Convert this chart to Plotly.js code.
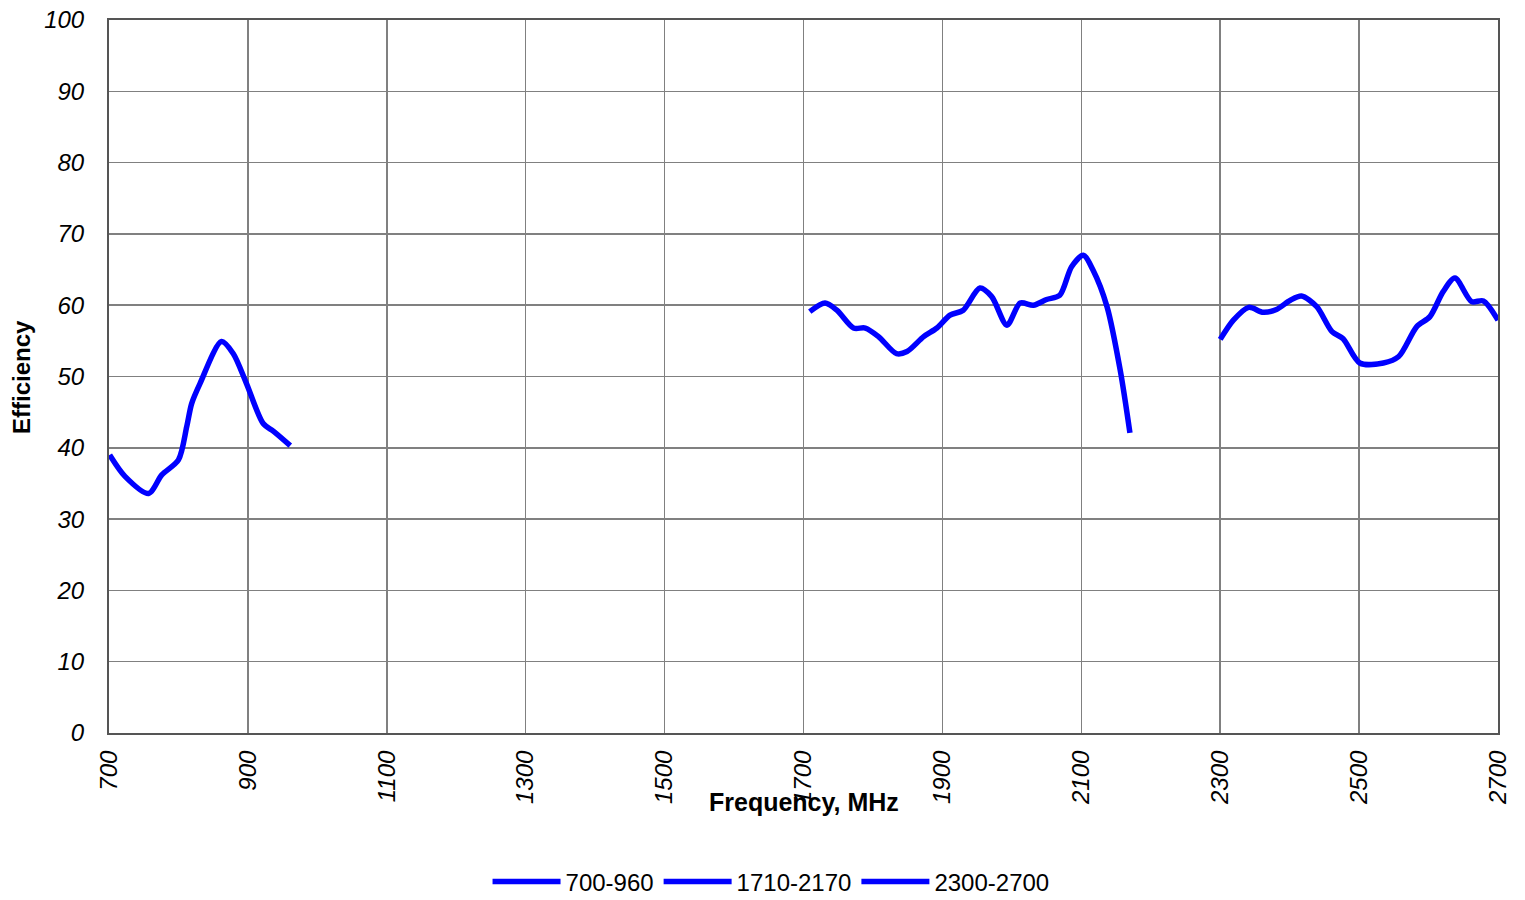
<!DOCTYPE html>
<html>
<head>
<meta charset="utf-8">
<script src="https://cdn.plot.ly/plotly-3.0.1.min.js"></script>
<style>html,body{margin:0;padding:0;background:#fff;}#chart{width:1525px;height:900px;}</style>
</head>
<body>
<div id="chart"></div>
<script>
// Series 700-960
const f1 = [701, 723, 757, 776, 800, 812, 819, 831, 862, 879, 898, 922, 937, 961];
const e1 = [39.0, 36.0, 33.6, 36.2, 38.3, 43.0, 46.2, 49.0, 54.9, 53.2, 49.0, 43.4, 42.3, 40.3];
// Series 1710-2170
const f2 = [1709, 1731, 1748, 1772, 1789, 1808, 1834, 1849, 1873, 1892, 1911, 1930, 1954, 1971, 1993, 2012, 2031, 2050, 2069, 2086, 2103, 2117, 2137, 2156, 2170];
const e2 = [59.1, 60.3, 59.3, 56.8, 56.8, 55.6, 53.2, 53.5, 55.6, 56.8, 58.6, 59.3, 62.4, 61.2, 57.2, 60.3, 60.0, 60.8, 61.4, 65.4, 67.0, 64.9, 59.8, 50.9, 42.1];
// Series 2300-2700
const f3 = [2300, 2319, 2341, 2362, 2381, 2401, 2417, 2439, 2461, 2477, 2501, 2535, 2557, 2583, 2602, 2621, 2638, 2662, 2679, 2700];
const e3 = [55.2, 57.9, 59.7, 59.0, 59.4, 60.7, 61.3, 59.8, 56.3, 55.3, 51.9, 51.9, 52.8, 57.0, 58.4, 61.9, 63.8, 60.5, 60.6, 57.9];
const seriesNames = ['700-960', '1710-2170', '2300-2700'];
const xTicks = [700, 900, 1100, 1300, 1500, 1700, 1900, 2100, 2300, 2500, 2700];
const yTicks = [0, 10, 20, 30, 40, 50, 60, 70, 80, 90, 100];

const lineStyle = {color: '#0000ff', width: 5.5, shape: 'spline', smoothing: 0.8};
const data = [[f1, e1], [f2, e2], [f3, e3]].map((s, i) => ({
  x: s[0], y: s[1], name: seriesNames[i], type: 'scatter', mode: 'lines',
  line: lineStyle
}));

const fam = 'Liberation Sans, Arial, sans-serif';
const tickFont = {family: fam, size: 24, color: '#000', style: 'italic'};
const layout = {
  width: 1525, height: 900,
  margin: {l: 109, r: 27, t: 20, b: 167},
  paper_bgcolor: '#fff', plot_bgcolor: '#fff',
  showlegend: true,
  legend: {orientation: 'h', xref: 'container', yref: 'container', x: 0.5056, xanchor: 'center',
    y: 0.02, yanchor: 'middle',
    font: {family: fam, size: 24, color: '#000'},
    itemwidth: 68, tracegroupgap: 0, bgcolor: 'rgba(0,0,0,0)'},
  xaxis: {
    range: [700, 2700], tickmode: 'array', tickvals: xTicks, ticktext: xTicks.map(String),
    tickangle: -90, tickfont: tickFont, ticks: '', ticklabelstandoff: 6,
    showgrid: true, gridcolor: '#808080', gridwidth: 1.5,
    showline: true, linecolor: '#555', linewidth: 2, mirror: true, zeroline: false
  },
  yaxis: {
    range: [0, 100], tickmode: 'array', tickvals: yTicks, ticktext: yTicks.map(String),
    tickfont: tickFont, ticks: '', ticklabelstandoff: 18,
    showgrid: true, gridcolor: '#808080', gridwidth: 1.5,
    showline: true, linecolor: '#555', linewidth: 2, mirror: true, zeroline: false
  },
  annotations: [
    {text: '<b>Frequency, MHz</b>', xref: 'paper', yref: 'paper', x: 0.5, y: -0.097,
     xanchor: 'center', yanchor: 'middle', showarrow: false,
     font: {family: fam, size: 25, color: '#000'}},
    {text: '<b>Efficiency</b>', xref: 'paper', yref: 'paper', x: -0.063, y: 0.5,
     xanchor: 'center', yanchor: 'middle', textangle: -90, showarrow: false,
     font: {family: fam, size: 24, color: '#000'}}
  ]
};
Plotly.newPlot('chart', data, layout, {displayModeBar: false, staticPlot: true});
</script>
</body>
</html>
